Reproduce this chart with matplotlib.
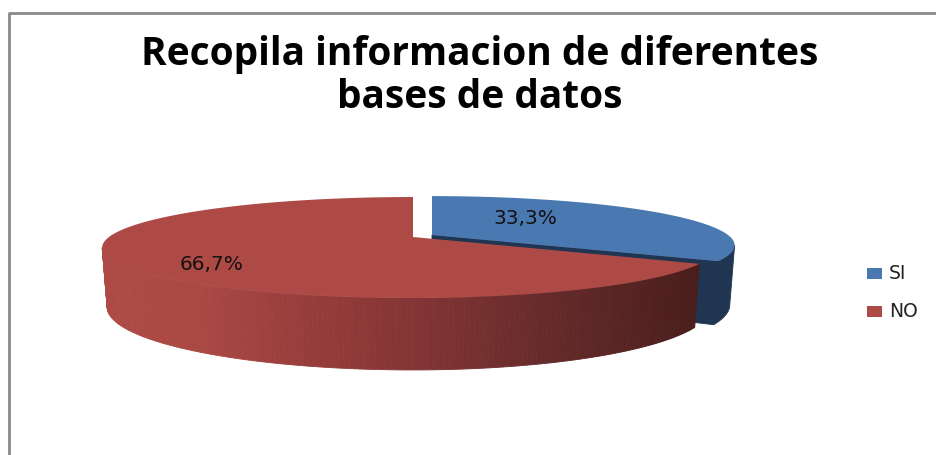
# 3D style pie chart, perspective drawn by hand on a pixel sized axes

import numpy as np
import matplotlib
matplotlib.use("Agg")
import matplotlib.pyplot as plt
from matplotlib.patches import Rectangle

# -----------------------------
# DATA
# -----------------------------

title_lines = ["Recopila informacion de diferentes", "bases de datos"]
categories = ["SI", "NO"]
percents = [33.3, 66.7]
top_colors = ["#4A78B0", "#AE4A46"]

plt.rcParams["font.family"] = ["Open Sans", "DejaVu Sans"]

# -----------------------------
# PIE GEOMETRY
# -----------------------------

k = 0.208        # perspective
b = 48.3
a_left = 304
a_right = 296
wall = 57
shrink = 0.984   # bottom rim is a little narrower

# rim angle where the ellipse is widest, the wall silhouette starts there
widest = np.degrees(np.arccos(-k))


def rim(theta_deg, cx, cy, b_y=b):
    t = np.radians(theta_deg)
    u = np.sin(t)
    v = np.cos(t)
    d = 1 + k * v
    a = np.where(u > 0, a_right, a_left)
    return cx + a * u / d, cy - b_y * v / d


def rim_bottom(theta_deg, cx, cy, b_y=b):
    x, y = rim(theta_deg, cx, cy, b_y)
    v = np.cos(np.radians(theta_deg))
    return cx + shrink * (x - cx), y + wall / (1 + k * v)


def wall_color(x):
    xs = [107, 200, 300, 420, 560, 695]
    r = np.interp(x, xs, [174, 170, 152, 130, 100, 74])
    g = np.interp(x, xs, [74, 72, 62, 52, 42, 30])
    bl = np.interp(x, xs, [70, 68, 60, 52, 42, 28])
    return (r / 255, g / 255, bl / 255)


fig = plt.figure(figsize=(9.36, 4.55), dpi=100)
ax = fig.add_axes([0, 0, 1, 1])
ax.set_xlim(0, 936)
ax.set_ylim(455, 0)
ax.axis("off")

# chart border
ax.plot([9, 9, 936], [455, 12.5, 12.5], color="#8A8A8A", lw=2, solid_capstyle="butt")

# pie angles, clockwise from 12 o'clock
split = 360 * percents[0] / sum(percents)

# -----------------------------
# BLUE SLICE
# -----------------------------

bx, by, bb = 432, 235, 47
th = np.linspace(0, split, 120)
x_top, y_top = rim(th, bx, by, bb)

# outer wall, only the part that faces the viewer
th_wall = np.linspace(widest, split, 40)
x_wt, y_wt = rim(th_wall, bx, by, bb)
x_wb, y_wb = rim_bottom(th_wall, bx, by, bb)
ax.fill(np.r_[x_wt, x_wb[::-1]], np.r_[y_wt, y_wb[::-1]], color="#1F3552", lw=0.6)
# cut face
ax.fill([bx, x_wt[-1], x_wb[-1], bx], [by, y_wt[-1], y_wb[-1], by + wall],
        color="#1F3552", lw=0.6)
# top face
ax.fill(np.r_[bx, x_top], np.r_[by, y_top], color=top_colors[0], lw=0)

# -----------------------------
# RED SLICE
# -----------------------------

rx, ry = 413, 237
th = np.linspace(split, 360, 300)
x_top, y_top = rim(th, rx, ry)
x_bot, y_bot = rim_bottom(th, rx, ry)

# outer wall in thin strips for the gradient
for i in range(len(th) - 1):
    if th[i] > 360 - widest:
        break
    ax.fill([x_top[i], x_top[i + 1], x_bot[i + 1], x_bot[i]],
            [y_top[i], y_top[i + 1], y_bot[i + 1], y_bot[i]],
            color=wall_color((x_top[i] + x_top[i + 1]) / 2), lw=0.6)

ax.fill(np.r_[rx, x_top], np.r_[ry, y_top], color=top_colors[1], lw=0)

# -----------------------------
# TEXT
# -----------------------------

ax.text(480, 55, title_lines[0], ha="center", va="center", fontsize=28,
        fontweight="bold", color="black")
ax.text(480, 98, title_lines[1], ha="center", va="center", fontsize=28,
        fontweight="bold", color="black")

pct_labels = [f"{p:.1f}%".replace(".", ",") for p in percents]
ax.text(525, 218, pct_labels[0], ha="center", va="center", fontsize=14.5,
        color="#111111", family="DejaVu Sans")
ax.text(212, 265, pct_labels[1], ha="center", va="center", fontsize=14.5,
        color="#111111", family="DejaVu Sans")

# legend
leg_y = [273.5, 311.5]
for name, col, y in zip(categories, top_colors, leg_y):
    ax.add_patch(Rectangle((867, y - 5.5), 15, 11, color=col, lw=0))
    ax.text(889, y, name, ha="left", va="center", fontsize=13.5, color="#222222",
            family="DejaVu Sans")

fig.savefig("out.png", dpi=100)
